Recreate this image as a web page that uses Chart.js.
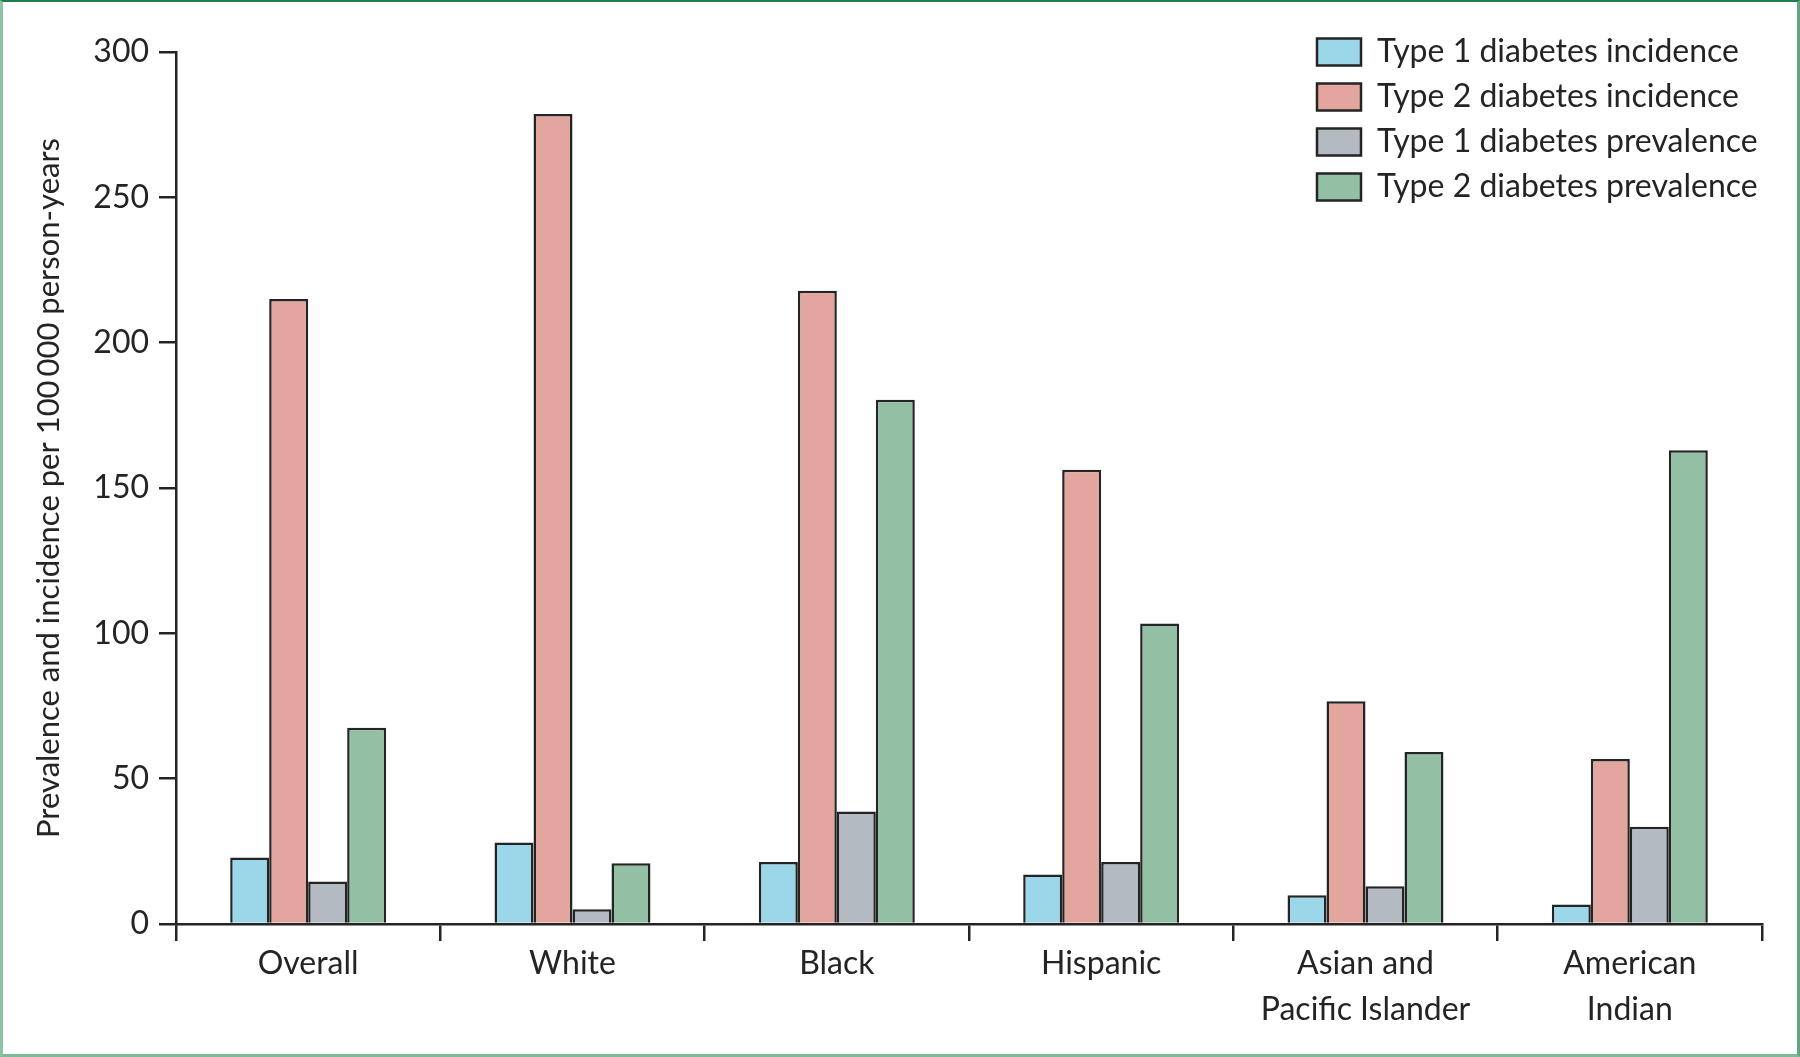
<!DOCTYPE html>
<html>
<head>
<meta charset="utf-8">
<title>Diabetes incidence and prevalence by race</title>
<script src="https://cdn.jsdelivr.net/npm/chart.js@4.4.1/dist/chart.umd.min.js"></script>
<style>
    html, body { margin: 0; padding: 0; background: #ffffff; }
    .frame {
        position: absolute; left: 0; top: 0;
        width: 1800px; height: 1057px; box-sizing: border-box;
        border-top: 2px solid #1f7d4d;
        border-left: 3px solid #8cc4a4;
        border-right: 3px solid #5fa580;
        border-bottom: 3px solid #7dbb98;
    }
    .chart-box { position: absolute; left: 0; top: 0; width: 1800px; height: 1057px; }
</style>
</head>
<body>
<div class="frame"></div>
<div class="chart-box"><canvas id="diabetesChart"></canvas></div>

<script>
// ---- data ----
const groups = [
    'Overall',
    'White',
    'Black',
    'Hispanic',
    ['Asian and', 'Pacific Islander'],
    ['American', 'Indian']
];
const seriesNames = [
    'Type 1 diabetes incidence',
    'Type 2 diabetes incidence',
    'Type 1 diabetes prevalence',
    'Type 2 diabetes prevalence'
];
const type1Incidence  = [22.9, 28.0, 21.3, 17.0, 9.9, 6.7];
const type2Incidence  = [215.0, 278.7, 217.9, 156.3, 76.6, 56.8];
const type1Prevalence = [14.6, 5.1, 38.7, 21.3, 13.0, 33.5];
const type2Prevalence = [67.5, 20.9, 180.4, 103.4, 59.2, 163.0];
const yTicks = [0, 50, 100, 150, 200, 250, 300];

const seriesColors = ['#9cd7e9', '#e2a69f', '#b3bac2', '#93bfa5'];
const inkColor = '#242424';

// Move the built-in legend to the top right corner of the plot
const legendCorner = {
    id: 'legendCorner',
    afterLayout(chart) {
        const lg = chart.legend;
        if (!lg) return;
        const w = lg.width;
        lg.left = 1304;
        lg.top = 23;
        lg.right = lg.left + w;
        lg.bottom = lg.top + 200;
        lg.height = 200;
    }
};

document.addEventListener('DOMContentLoaded', () => {
    Chart.defaults.font.family = "'Lato', 'Open Sans', sans-serif";
    Chart.defaults.color = inkColor;

    const seriesValues = [type1Incidence, type2Incidence, type1Prevalence, type2Prevalence];

    new Chart(document.getElementById('diabetesChart'), {
        type: 'bar',
        data: {
            labels: groups,
            datasets: seriesNames.map((name, i) => ({
                label: name,
                data: seriesValues[i],
                backgroundColor: seriesColors[i],
                borderColor: inkColor,
                borderWidth: 2.5,
                categoryPercentage: 0.59,
                barPercentage: 1.0
            }))
        },
        options: {
            responsive: true,
            maintainAspectRatio: false,
            animation: false,
            layout: { padding: { left: 0, top: 52, right: 38, bottom: 0 } },
            plugins: {
                tooltip: { enabled: false },
                legend: {
                    position: 'chartArea',
                    align: 'start',
                    labels: {
                        boxWidth: 44,
                        boxHeight: 27,
                        padding: 13,
                        font: { size: 32 },
                        color: inkColor
                    }
                }
            },
            scales: {
                x: {
                    grid: {
                        drawOnChartArea: false,
                        drawTicks: true,
                        tickLength: 17,
                        color: inkColor,
                        lineWidth: 2.5
                    },
                    border: { display: true, color: inkColor, width: 2.5 },
                    ticks: {
                        font: { size: 32, lineHeight: 1.44 },
                        color: inkColor,
                        padding: 0,
                        maxRotation: 0,
                        autoSkip: false
                    },
                    afterFit: (scale) => { scale.height = 133; }
                },
                y: {
                    min: 0,
                    max: 300,
                    afterBuildTicks: (scale) => { scale.ticks = yTicks.map(v => ({ value: v })); },
                    grid: {
                        drawOnChartArea: false,
                        drawTicks: true,
                        tickLength: 17,
                        color: inkColor,
                        lineWidth: 2.5
                    },
                    border: { display: true, color: inkColor, width: 2.5 },
                    ticks: {
                        font: { size: 32 },
                        color: inkColor,
                        padding: 10
                    },
                    title: {
                        display: true,
                        text: 'Prevalence and incidence per 100\u2009000 person-years',
                        font: { size: 31 },
                        color: inkColor,
                        padding: { top: 30, bottom: 0 }
                    },
                    afterFit: (scale) => { scale.width = 176; }
                }
            }
        },
        plugins: [legendCorner]
    });
});
</script>
</body>
</html>
